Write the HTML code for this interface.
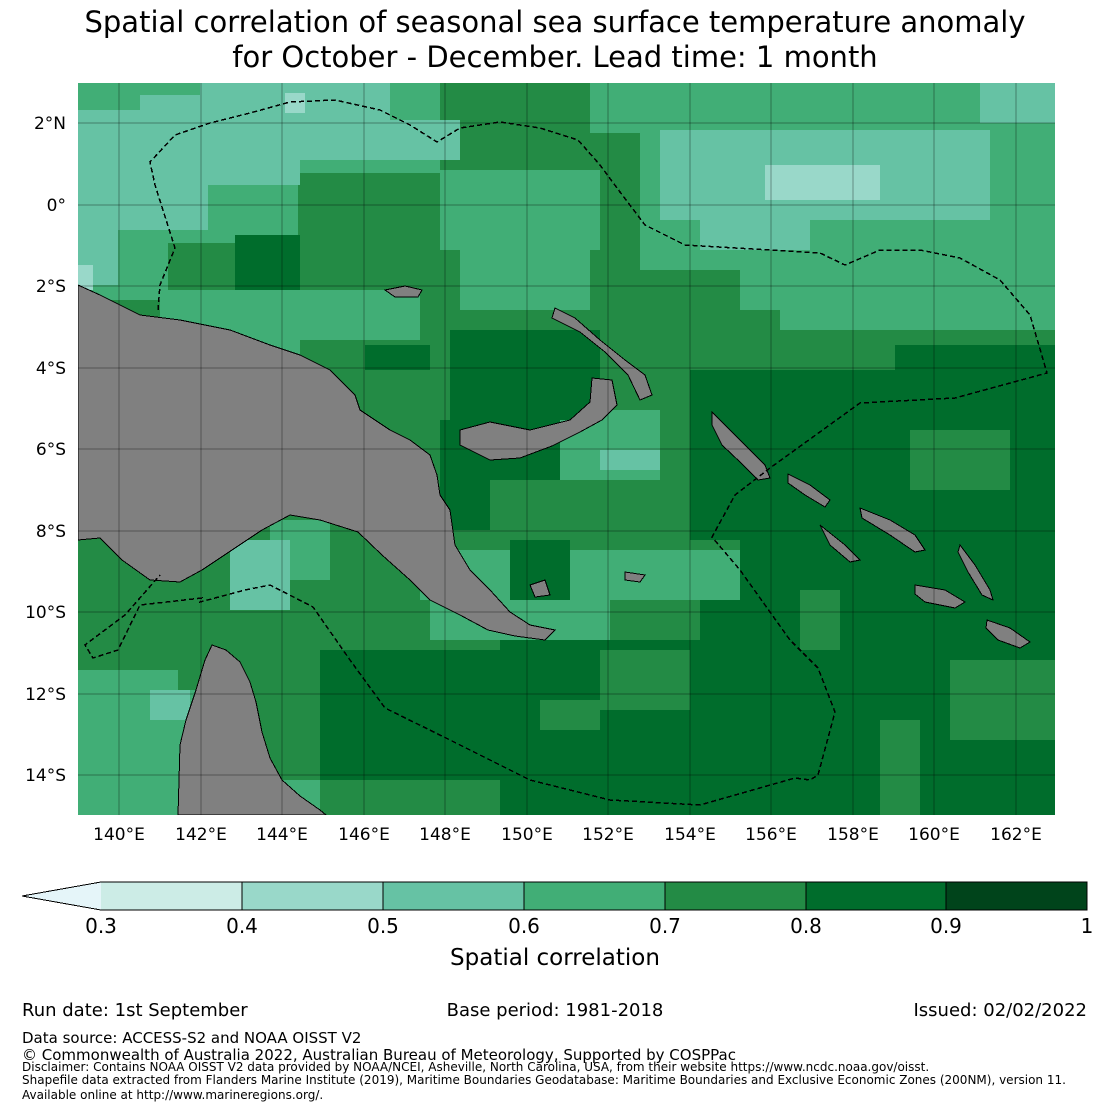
<!DOCTYPE html>
<html><head><meta charset="utf-8"><style>
body{margin:0;background:#fff;width:1110px;height:1110px;overflow:hidden;font-family:"Liberation Sans","DejaVu Sans",sans-serif;}
</style></head><body>
<svg width="1110" height="1110" xmlns="http://www.w3.org/2000/svg" font-family="DejaVu Sans, Liberation Sans, sans-serif">
<text x="555" y="32" font-size="29" text-anchor="middle">Spatial correlation of seasonal sea surface temperature anomaly</text>
<text x="555" y="67" font-size="29" text-anchor="middle">for October - December. Lead time: 1 month</text>
<defs><clipPath id="c"><rect x="78" y="83" width="977" height="732"/></clipPath></defs>
<g clip-path="url(#c)" shape-rendering="crispEdges">
<rect x="78" y="83" width="977" height="732" fill="#238b45"/>
<g fill="#41ae76">
<rect x="78" y="83" width="220" height="160"/>
<rect x="78" y="240" width="90" height="60"/>
<rect x="160" y="290" width="140" height="70"/>
<rect x="300" y="290" width="120" height="50"/>
<rect x="290" y="83" width="150" height="90"/>
<rect x="440" y="170" width="160" height="80"/>
<rect x="460" y="240" width="130" height="70"/>
<rect x="590" y="83" width="465" height="50"/>
<rect x="640" y="120" width="415" height="150"/>
<rect x="780" y="250" width="275" height="80"/>
<rect x="740" y="250" width="50" height="60"/>
<rect x="560" y="410" width="100" height="70"/>
<rect x="420" y="550" width="320" height="50"/>
<rect x="430" y="590" width="180" height="50"/>
<rect x="78" y="670" width="100" height="145"/>
<rect x="140" y="690" width="80" height="110"/>
<rect x="270" y="520" width="60" height="60"/>
<rect x="280" y="780" width="40" height="35"/>
</g>
<g fill="#66c2a4">
<rect x="78" y="110" width="130" height="120"/>
<rect x="78" y="225" width="40" height="60"/>
<rect x="140" y="95" width="160" height="90"/>
<rect x="200" y="83" width="190" height="40"/>
<rect x="300" y="120" width="160" height="40"/>
<rect x="660" y="130" width="330" height="90"/>
<rect x="700" y="210" width="110" height="40"/>
<rect x="980" y="83" width="75" height="40"/>
<rect x="600" y="450" width="60" height="20"/>
<rect x="230" y="540" width="60" height="70"/>
<rect x="150" y="690" width="40" height="30"/>
<rect x="400" y="480" width="30" height="30"/>
</g>
<g fill="#99d8c9"><rect x="765" y="165" width="115" height="35"/><rect x="285" y="93" width="20" height="20"/><rect x="78" y="265" width="15" height="25"/></g>
<g fill="#006d2c">
<rect x="235" y="235" width="65" height="55"/>
<rect x="365" y="345" width="65" height="25"/>
<rect x="450" y="330" width="150" height="90"/>
<rect x="440" y="420" width="120" height="60"/>
<rect x="895" y="345" width="160" height="55"/>
<rect x="690" y="370" width="210" height="30"/>
<rect x="690" y="400" width="365" height="140"/>
<rect x="740" y="530" width="315" height="285"/>
<rect x="700" y="600" width="60" height="215"/>
<rect x="320" y="650" width="180" height="130"/>
<rect x="500" y="640" width="200" height="175"/>
<rect x="510" y="540" width="60" height="60"/>
<rect x="440" y="470" width="50" height="60"/>
</g>
<g fill="#238b45">
<rect x="600" y="650" width="90" height="60"/>
<rect x="910" y="430" width="100" height="60"/>
<rect x="950" y="660" width="105" height="80"/>
<rect x="880" y="720" width="40" height="95"/>
<rect x="540" y="700" width="60" height="30"/>
<rect x="800" y="590" width="40" height="60"/>
</g>
<g fill="#808080" stroke="#000" stroke-width="1">
<path d="M78,285 L100,295 L140,315 L180,320 L230,330 L270,345 L300,355 L330,370 L355,395 L360,410 L390,430 L410,440 L430,455 L437,475 L440,495 L450,510 L455,545 L470,570 L490,590 L510,612 L530,625 L555,630 L545,640 L515,636 L488,630 L460,615 L430,600 L410,580 L382,555 L358,532 L320,520 L290,515 L262,530 L232,550 L202,570 L180,582 L150,580 L122,560 L100,538 L78,540 Z"/>
<path d="M460,430 L490,422 L530,430 L570,420 L590,402 L592,378 L612,380 L617,405 L602,420 L580,432 L552,446 L520,458 L490,460 L460,445 Z"/>
<path d="M555,308 L575,318 L600,340 L625,360 L645,375 L652,395 L640,400 L628,375 L605,352 L580,332 L552,318 Z"/>
<path d="M385,290 L405,286 L422,290 L418,297 L395,297 Z"/>
<path d="M712,412 L725,425 L745,445 L765,465 L770,478 L758,480 L740,462 L722,445 L712,425 Z"/>
<path d="M788,474 L810,485 L830,500 L825,507 L805,495 L788,483 Z"/>
<path d="M860,508 L890,520 L915,535 L925,550 L915,552 L890,535 L862,518 Z"/>
<path d="M915,585 L945,590 L965,602 L955,608 L925,602 L915,594 Z"/>
<path d="M960,545 L975,565 L990,590 L993,600 L982,595 L968,572 L958,552 Z"/>
<path d="M987,620 L1010,628 L1030,642 L1020,648 L998,640 L986,628 Z"/>
<path d="M820,525 L845,545 L860,560 L850,562 L830,545 Z"/>
<path d="M530,585 L545,580 L550,595 L535,597 Z"/>
<path d="M625,572 L645,575 L640,582 L625,580 Z"/>
<path d="M178,815 L180,745 L186,720 L196,690 L205,660 L212,645 L226,650 L240,662 L250,682 L256,702 L262,732 L270,758 L282,780 L300,796 L320,810 L326,815 Z"/>
</g>
<g stroke="#000" stroke-opacity="0.35" stroke-width="1">
<line x1="119" y1="83" x2="119" y2="815"/><line x1="201" y1="83" x2="201" y2="815"/><line x1="282" y1="83" x2="282" y2="815"/><line x1="364" y1="83" x2="364" y2="815"/><line x1="445" y1="83" x2="445" y2="815"/><line x1="527" y1="83" x2="527" y2="815"/><line x1="608" y1="83" x2="608" y2="815"/><line x1="690" y1="83" x2="690" y2="815"/><line x1="771" y1="83" x2="771" y2="815"/><line x1="853" y1="83" x2="853" y2="815"/><line x1="934" y1="83" x2="934" y2="815"/><line x1="1016" y1="83" x2="1016" y2="815"/>
<line x1="78" y1="123" x2="1055" y2="123"/><line x1="78" y1="205" x2="1055" y2="205"/><line x1="78" y1="286" x2="1055" y2="286"/><line x1="78" y1="368" x2="1055" y2="368"/><line x1="78" y1="449" x2="1055" y2="449"/><line x1="78" y1="531" x2="1055" y2="531"/><line x1="78" y1="612" x2="1055" y2="612"/><line x1="78" y1="694" x2="1055" y2="694"/><line x1="78" y1="775" x2="1055" y2="775"/>
</g>
<g fill="none" stroke="#000" stroke-width="1.5" stroke-dasharray="5,3">
<path d="M158,310 L160,285 L175,248 L155,185 L150,162 L175,135 L210,123 L250,113 L290,102 L335,100 L380,110 L410,125 L437,142 L460,128 L500,122 L540,128 L578,140 L600,165 L620,192 L645,225 L685,245 L820,253 L845,265 L880,250 L920,250 L960,258 L1000,280 L1030,315 L1047,373 L955,398 L860,403 L770,468 L735,495 L712,537 L740,570 L765,605 L790,640 L818,668 L835,712 L818,775 L810,780 L795,778 L700,805 L610,800 L530,780 L450,740 L385,708 L350,660 L313,607 L270,585 L245,590 L200,602 L202,598 L140,605 L118,650 L93,658 L85,645 L125,615 L160,575"/>
</g>
</g>
<g font-size="17" text-anchor="end">
<text x="66" y="129">2°N</text><text x="66" y="211">0°</text><text x="66" y="292">2°S</text><text x="66" y="374">4°S</text><text x="66" y="455">6°S</text><text x="66" y="537">8°S</text><text x="66" y="618">10°S</text><text x="66" y="700">12°S</text><text x="66" y="781">14°S</text>
</g>
<g font-size="17" text-anchor="middle">
<text x="119" y="840">140°E</text><text x="201" y="840">142°E</text><text x="282" y="840">144°E</text><text x="364" y="840">146°E</text><text x="445" y="840">148°E</text><text x="527" y="840">150°E</text><text x="608" y="840">152°E</text><text x="690" y="840">154°E</text><text x="771" y="840">156°E</text><text x="853" y="840">158°E</text><text x="934" y="840">160°E</text><text x="1016" y="840">162°E</text>
</g>
<g shape-rendering="crispEdges">
<path d="M101,882 L22,896 L101,910 Z" fill="#e5f5f9"/>
<rect x="101" y="882" width="141" height="28" fill="#ccece6"/>
<rect x="242" y="882" width="141" height="28" fill="#99d8c9"/>
<rect x="383" y="882" width="141" height="28" fill="#66c2a4"/>
<rect x="524" y="882" width="141" height="28" fill="#41ae76"/>
<rect x="665" y="882" width="141" height="28" fill="#238b45"/>
<rect x="806" y="882" width="140" height="28" fill="#006d2c"/>
<rect x="946" y="882" width="141" height="28" fill="#00441b"/>
<g stroke="#000" stroke-width="1"><line x1="242" y1="882" x2="242" y2="910"/><line x1="383" y1="882" x2="383" y2="910"/><line x1="524" y1="882" x2="524" y2="910"/><line x1="665" y1="882" x2="665" y2="910"/><line x1="806" y1="882" x2="806" y2="910"/><line x1="946" y1="882" x2="946" y2="910"/></g>
<path d="M101,882 L1087,882 L1087,910 L101,910 L22,896 Z" fill="none" stroke="#000" stroke-width="1"/>
</g>
<g font-size="20" text-anchor="middle">
<text x="101" y="933">0.3</text><text x="242" y="933">0.4</text><text x="383" y="933">0.5</text><text x="524" y="933">0.6</text><text x="665" y="933">0.7</text><text x="806" y="933">0.8</text><text x="946" y="933">0.9</text><text x="1087" y="933">1</text>
</g>
<text x="555" y="965" font-size="23" text-anchor="middle">Spatial correlation</text>
<text x="22" y="1016" font-size="18">Run date: 1st September</text>
<text x="555" y="1016" font-size="18" text-anchor="middle">Base period: 1981-2018</text>
<text x="1087" y="1016" font-size="18" text-anchor="end">Issued: 02/02/2022</text>
<text x="22" y="1043" font-size="15">Data source: ACCESS-S2 and NOAA OISST V2</text>
<text x="22" y="1060" font-size="15">© Commonwealth of Australia 2022, Australian Bureau of Meteorology, Supported by COSPPac</text>
<text x="22" y="1071" font-size="12">Disclaimer: Contains NOAA OISST V2 data provided by NOAA/NCEI, Asheville, North Carolina, USA, from their website https://www.ncdc.noaa.gov/oisst.</text>
<text x="22" y="1084" font-size="12">Shapefile data extracted from Flanders Marine Institute (2019), Maritime Boundaries Geodatabase: Maritime Boundaries and Exclusive Economic Zones (200NM), version 11.</text>
<text x="22" y="1099" font-size="12">Available online at http://www.marineregions.org/.</text>
</svg>
</body></html>
